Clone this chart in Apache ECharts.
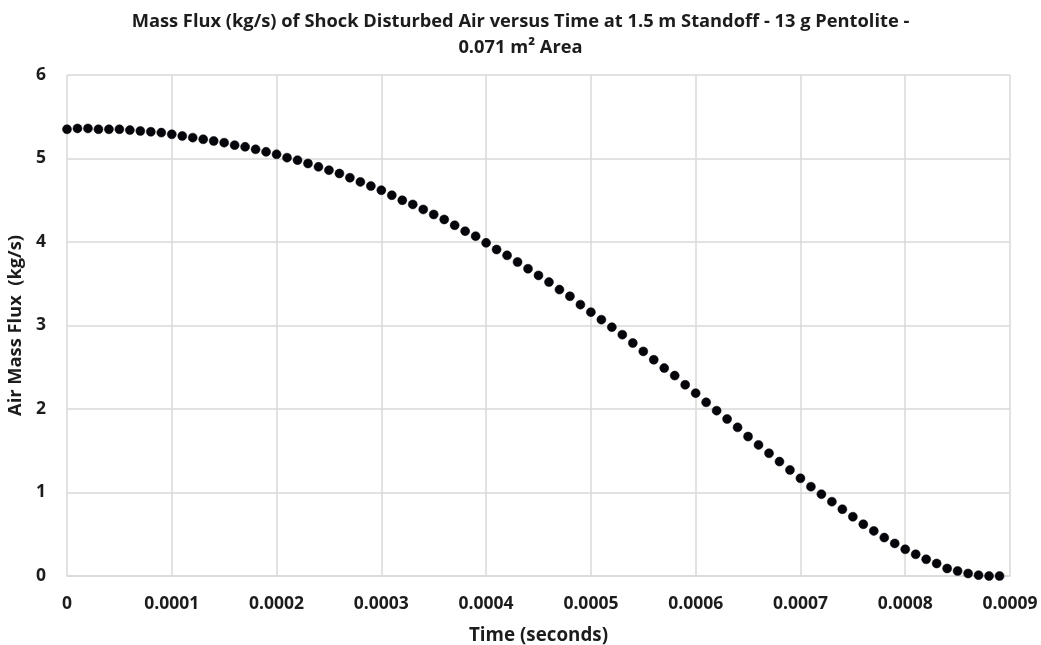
<!DOCTYPE html>
<html>
<head>
<meta charset="utf-8">
<script src="https://cdn.jsdelivr.net/npm/echarts@6/dist/echarts.min.js"></script>
<style>
html,body{margin:0;padding:0;background:#fff;}
#chart{width:1041px;height:645px;}
</style>
</head>
<body>
<div id="chart"></div>
<script>
// Time step between samples (seconds) and sample count
const timeStep = 0.00001;
const times = [];
for (let i = 0; i < 90; i++) times.push(+(i * timeStep).toFixed(5));

// Air mass flux (kg/s)
const massFlux = [
  5.35, 5.36, 5.36, 5.35, 5.35, 5.35, 5.34, 5.33, 5.32, 5.31,
  5.29, 5.27, 5.25, 5.23, 5.21, 5.19, 5.16, 5.14, 5.11, 5.08,
  5.05, 5.01, 4.98, 4.94, 4.90, 4.86, 4.82, 4.77, 4.72, 4.67,
  4.62, 4.56, 4.50, 4.45, 4.39, 4.33, 4.27, 4.20, 4.13, 4.07,
  3.99, 3.91, 3.84, 3.76, 3.68, 3.60, 3.52, 3.43, 3.35, 3.25,
  3.16, 3.07, 2.98, 2.89, 2.79, 2.69, 2.59, 2.49, 2.40, 2.29,
  2.19, 2.08, 1.98, 1.88, 1.78, 1.67, 1.57, 1.47, 1.37, 1.27,
  1.17, 1.07, 0.98, 0.89, 0.80, 0.71, 0.62, 0.54, 0.46, 0.39,
  0.32, 0.26, 0.20, 0.15, 0.09, 0.06, 0.03, 0.01, 0.00, 0.00
];

const titleLines = [
  "Mass Flux (kg/s) of Shock Disturbed Air versus Time at 1.5 m Standoff - 13 g Pentolite -",
  "0.071 m\u00B2 Area"
];
const xAxisName = "Time (seconds)";
const yAxisName = "Air Mass Flux  (kg/s)";

const points = times.map((t, i) => [t, massFlux[i]]);
const font = "'Open Sans', Lato, sans-serif";
const txt = '#1c1c1c';

const chart = echarts.init(document.getElementById('chart'), null, {renderer: 'canvas'});
chart.setOption({
  backgroundColor: '#ffffff',
  animation: false,
  title: {
    text: titleLines.join('\n'),
    left: 'center',
    top: 4,
    textStyle: {fontFamily: font, fontSize: 18.3, fontWeight: 'bold', color: txt, lineHeight: 26}
  },
  grid: {left: 67, right: 31, top: 75, bottom: 69, containLabel: false, outerBoundsMode: 'none'},
  xAxis: {
    type: 'value',
    min: 0, max: 0.0009, interval: 0.0001,
    name: xAxisName,
    nameLocation: 'middle',
    nameGap: 50,
    nameTextStyle: {fontFamily: font, fontSize: 18.8, fontWeight: 'bold', color: txt},
    axisLine: {show: true, lineStyle: {color: '#d9d9d9', width: 1.5}},
    axisTick: {show: false},
    axisLabel: {
      fontFamily: font, fontSize: 17.5, fontWeight: 'bold', color: txt, margin: 19,
      formatter: v => v === 0 ? '0' : v.toFixed(4)
    },
    splitLine: {show: true, lineStyle: {color: '#d9d9d9', width: 1.5}}
  },
  yAxis: {
    type: 'value',
    min: 0, max: 6, interval: 1,
    name: yAxisName,
    nameLocation: 'middle',
    nameGap: 38,
    nameTextStyle: {fontFamily: font, fontSize: 18.3, fontWeight: 'bold', color: txt},
    axisLine: {show: false},
    axisTick: {show: false},
    axisLabel: {fontFamily: font, fontSize: 17.5, fontWeight: 'bold', color: txt, margin: 21},
    splitLine: {show: true, lineStyle: {color: '#d9d9d9', width: 1.5}}
  },
  series: [{
    type: 'scatter',
    data: points,
    symbol: 'circle',
    symbolSize: 9,
    itemStyle: {color: '#05050c', opacity: 1, borderColor: '#000', borderWidth: 0.5},
    emphasis: {disabled: true},
    clip: false
  }]
});
</script>
</body>
</html>
